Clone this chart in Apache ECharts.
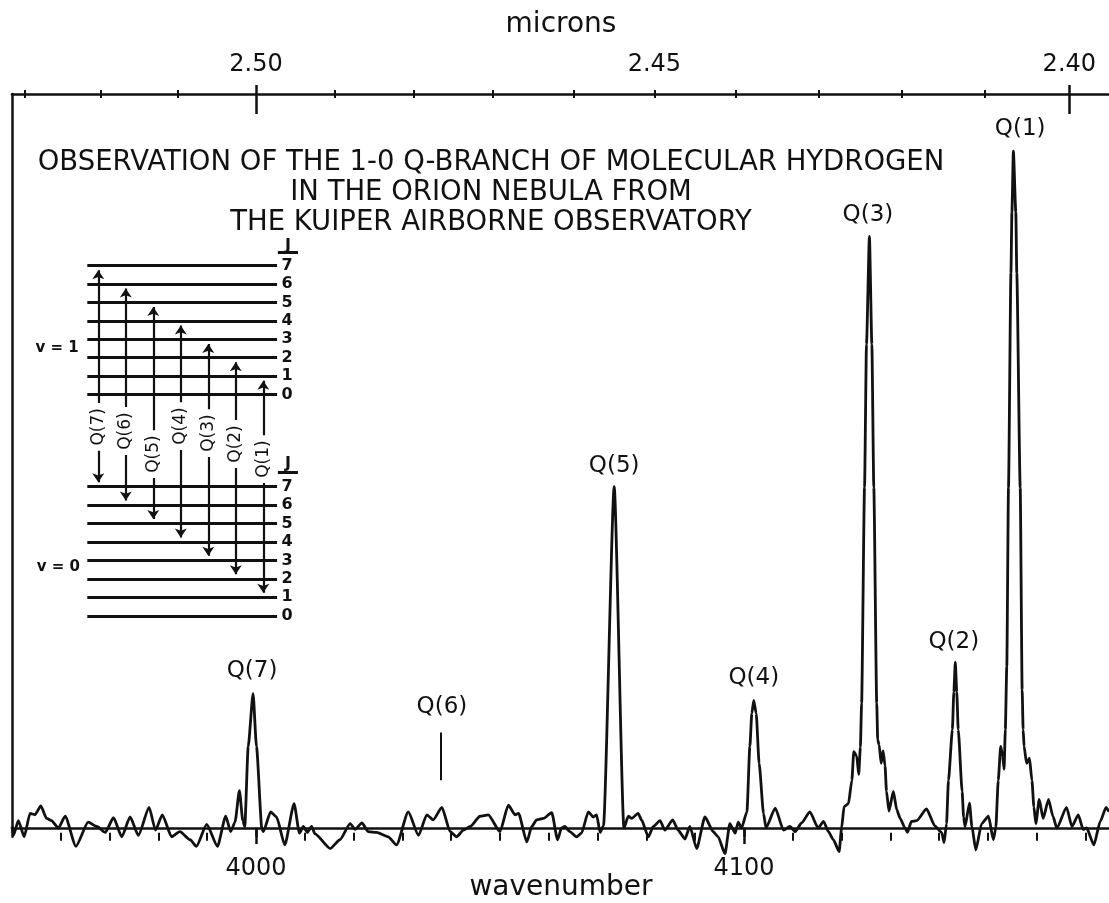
<!DOCTYPE html>
<html>
<head>
<meta charset="utf-8">
<script src="https://cdn.jsdelivr.net/npm/echarts@6/dist/echarts.min.js"></script>
<style>html,body{margin:0;padding:0;background:#fff}#chart{width:1109px;height:903px}</style>
</head>
<body>
<div id="chart"></div>
<script>
// ---------- spectrum (wavenumber cm^-1, relative intensity) ----------
const wavenumber = [
3950.0,3950.3,3951.3,3952.5,3953.7,3954.7,3955.9,3957.1,3958.1,3959.5,3960.9,3963.1,3965.6,3967.4,3969.1,3970.8,
3972.5,3974.2,3975.9,3978.1,3979.4,3980.8,3982.7,3984.4,3986.5,3987.8,3989.9,3992.1,3993.8,3994.8,3995.7,3996.6,
3997.3,3997.7,3998.4,3999.4,4000.1,4001.2,4001.5,4003.0,4004.2,4005.9,4007.8,4008.9,4009.7,4010.5,4011.4,4012.1,
4015.2,4017.2,4019.3,4020.3,4021.7,4023.0,4024.7,4027.1,4028.8,4031.2,4033.3,4035.0,4036.3,4038.1,4039.8,4041.1,
4042.5,4043.9,4045.9,4047.6,4050.0,4051.7,4053.1,4053.8,4055.5,4056.5,4057.5,4058.9,4060.6,4061.8,4062.6,4063.3,
4064.3,4065.7,4066.7,4068.1,4069.1,4069.8,4070.5,4071.2,4073.4,4075.4,4076.3,4077.0,4078.3,4079.0,4080.4,4081.4,
4082.8,4083.8,4085.4,4086.5,4087.9,4088.9,4090.3,4092.0,4093.7,4094.7,4096.1,4097.1,4098.2,4098.8,4099.5,4100.6,
4101.2,4101.6,4102.0,4102.5,4103.1,4104.0,4104.5,4106.4,4108.1,4109.4,4110.5,4111.8,4113.5,4115.2,4116.3,4117.3,
4118.3,4119.5,4120.0,4120.5,4121.4,4122.1,4122.5,4123.1,4123.5,4123.85,4124.1,4124.7,4125.1,4125.7,4126.2,4126.6,
4127.2,4127.4,4127.7,4128.1,4128.5,4128.9,4129.2,4129.7,4130.6,4131.3,4132.0,4133.0,4133.5,4134.3,4135.4,4137.4,
4139.1,4140.5,4141.0,4141.5,4141.9,4142.7,4143.0,4143.3,4143.6,4143.9,4144.7,4145.0,4145.3,4146.2,4146.7,4147.5,
4148.7,4150.1,4151.1,4151.6,4152.1,4152.6,4153.0,4153.3,4153.55,4153.85,4154.2,4154.7,4154.9,4155.2,4155.7,4155.9,
4156.6,4157.0,4157.2,4157.4,4157.9,4158.5,4159.0,4159.4,4159.8,4160.5,4161.3,4162.4,4163.3,4164.1,4166.1,4167.2,
4168.5,4169.5,4170.2,4171.7,4173.0,4174.2,4174.8
];
const intensity = [
0.2,-1.0,1.0,-1.2,2.0,1.8,3.0,1.3,1.0,0.0,1.6,-2.5,0.8,0.2,-0.6,1.4,
-1.2,1.5,-1.0,2.8,-0.3,1.8,-1.2,-0.5,-1.6,-2.5,0.5,-2.5,1.6,-0.5,0.8,5.1,
1.0,0.2,11.1,18.3,11.1,-0.1,-0.5,2.2,1.5,-2.3,3.3,-0.7,0.2,-0.6,0.2,-0.8,
-2.8,-1.6,0.6,-0.2,0.7,-0.5,-0.6,-1.2,-2.3,2.2,-1.0,1.8,1.1,2.8,-0.5,-1.2,
-0.3,0.2,1.6,1.8,-0.5,3.1,1.8,2.0,-1.9,0.2,1.1,1.3,2.1,-1.6,0.0,0.2,
-0.5,-1.2,-0.7,2.2,1.5,1.8,-0.6,0.3,46.5,0.0,1.6,1.3,2.0,1.1,-1.2,0.2,
1.0,-0.3,1.1,-0.3,-1.5,0.2,-2.8,1.5,-0.5,-1.2,-3.5,0.6,-0.7,0.8,0.0,2.2,
11.1,15.6,17.4,15.6,8.8,2.0,0.0,2.7,-0.3,0.2,-0.5,0.7,2.2,0.0,0.9,-0.5,
-1.6,-3.2,0.0,2.9,3.3,6.5,10.4,9.8,7.3,11.0,17.0,46.4,65.9,80.6,65.9,46.4,
17.0,12.0,11.3,8.8,10.5,8.5,5.0,2.3,5.0,2.5,1.3,0.0,-0.6,0.9,1.0,2.6,
0.3,-0.6,-2.0,0.6,6.5,13.4,18.5,22.6,18.5,13.4,5.0,1.5,0.2,3.4,0.2,-3.0,
0.6,1.6,-1.6,0.0,6.5,11.1,9.8,8.0,13.4,22.0,46.4,75.6,83.9,92.2,83.9,75.6,
46.4,18.8,13.4,11.1,8.8,9.5,6.5,2.9,0.6,3.9,1.3,3.9,1.6,0.0,2.8,0.2,
1.8,-0.2,0.0,-2.3,0.9,2.8,2.2
];

// ---------- line identifications ----------
const peakNames = ['Q(7)', 'Q(6)', 'Q(5)', 'Q(4)', 'Q(3)', 'Q(2)', 'Q(1)'];
const peakLabelWavenumber = [3999.2, 4038.1, 4073.4, 4102.0, 4125.4, 4143.0, 4156.6];
const peakLabelLevel = [21.4, 16.5, 49.3, 20.4, 83.5, 25.3, 95.2];
const q6MarkWavenumber = 4037.9;
const q6MarkRange = [6.5, 13.0];

// ---------- axes ----------
const wavenumberLabels = [4000, 4100];
const wavenumberMinorTicks = [3960,3970,3980,3990,4010,4020,4030,4040,4050,4060,4070,4080,4090,4110,4120,4130,4140,4150,4160,4170];
const micronLabels = [2.50, 2.45, 2.40];
const micronMajorTicks = [2.50, 2.40];
const micronMinorTicks = [2.53, 2.52, 2.51, 2.49, 2.48, 2.47, 2.46, 2.45, 2.44, 2.43, 2.42, 2.41];

// ---------- energy level diagram (v=1 and v=0, J = 0..7) ----------
const levelJ = [0, 1, 2, 3, 4, 5, 6, 7];
const transitionJ = [1, 2, 3, 4, 5, 6, 7];
const transitionNames = ['Q(1)', 'Q(2)', 'Q(3)', 'Q(4)', 'Q(5)', 'Q(6)', 'Q(7)'];

// layout of the diagram (in diagram units)
const V1_OFFSET = 12;
const LEVEL_X0 = -0.4, LEVEL_X1 = 6.5, DIGIT_X = 6.86;
const qLabelCentre = {1: 8.50, 2: 9.32, 3: 9.91, 4: 10.29, 5: 8.77, 6: 10.02, 7: 10.25};
const LABEL_HALF = 1.3, ARROW_PAD = 0.25;

const FONT = 'DejaVu Sans';
const INK = '#111';
const toWn = m => 1e4 / m;

const levelLines = [];
levelJ.forEach(J => {
  levelLines.push({coords: [[LEVEL_X0, J], [LEVEL_X1, J]]});
  levelLines.push({coords: [[LEVEL_X0, J + V1_OFFSET], [LEVEL_X1, J + V1_OFFSET]]});
});
levelLines.push({coords: [[6.53, 19.72], [7.26, 19.72]]});
levelLines.push({coords: [[6.53, 7.78], [7.26, 7.78]]});

const upSegs = transitionJ.map(J => ({coords: [[7 - J, J + V1_OFFSET - ARROW_PAD], [7 - J, qLabelCentre[J] + LABEL_HALF]]}));
const downSegs = transitionJ.map(J => ({coords: [[7 - J, qLabelCentre[J] - LABEL_HALF], [7 - J, J + ARROW_PAD]]}));

const diagramText = [];
levelJ.forEach(J => {
  diagramText.push({value: [DIGIT_X, J], name: String(J)});
  diagramText.push({value: [DIGIT_X, J + V1_OFFSET], name: String(J)});
});
diagramText.push({value: [6.9, 20.07], name: 'J'});
diagramText.push({value: [6.9, 8.23], name: 'J'});
const vLabels = [{value: [-1.5, 14.54], name: 'v = 1'}, {value: [-1.45, 2.66], name: 'v = 0'}];
const qDiagLabels = transitionJ.map((J, i) => ({value: [7 - J, qLabelCentre[J]], name: transitionNames[i]}));

function tickAxis(extra) {
  return Object.assign({
    type: 'value', gridIndex: 0, min: 3950, max: 4175,
    splitLine: {show: false}, axisLabel: {show: false},
    axisLine: {show: false, onZero: true}
  }, extra);
}

function textScatter(axisX, axisY, data, label) {
  return {
    type: 'scatter', xAxisIndex: axisX, yAxisIndex: axisY, symbolSize: 1,
    itemStyle: {color: 'rgba(0,0,0,0)', opacity: 1},
    data: data, silent: true,
    label: Object.assign({show: true, position: 'inside', formatter: '{b}', color: INK, opacity: 1,
                          fontFamily: FONT, textBorderWidth: 0}, label),
    z: 6
  };
}

const option = {
  animation: false,
  backgroundColor: '#ffffff',
  textStyle: {fontFamily: FONT, color: INK},
  title: {
    text: 'OBSERVATION OF THE 1-0 Q-BRANCH OF MOLECULAR HYDROGEN\nIN THE ORION NEBULA FROM\nTHE KUIPER AIRBORNE OBSERVATORY',
    left: 486, top: 143, textAlign: 'center',
    textStyle: {fontFamily: FONT, fontSize: 27.5, fontWeight: 'normal', lineHeight: 30, color: INK}
  },
  grid: [
    {left: 12, top: 94, width: 1098, height: 742.8, outerBoundsMode: 'none', containLabel: false},
    {left: 43.3, top: 228.7, width: 275, height: 405.5, outerBoundsMode: 'none', containLabel: false}
  ],
  xAxis: [
    tickAxis({
      position: 'bottom',
      axisLine: {show: true, onZero: true, lineStyle: {color: INK, width: 2.5}},
      axisTick: {show: true, customValues: wavenumberLabels, length: 16, lineStyle: {color: INK, width: 2.5}},
      axisLabel: {show: true, customValues: wavenumberLabels, margin: 20, fontSize: 24, color: INK, fontFamily: FONT,
                  formatter: v => String(v)},
      name: 'wavenumber', nameLocation: 'middle', nameGap: 37, nameMoveOverlap: false,
      nameTextStyle: {fontSize: 28, color: INK, fontFamily: FONT}
    }),
    tickAxis({position: 'bottom', axisTick: {show: true, inside: true, customValues: wavenumberMinorTicks, length: 4, lineStyle: {color: INK, width: 2}}}),
    tickAxis({position: 'bottom', axisTick: {show: true, customValues: wavenumberMinorTicks, length: 4, lineStyle: {color: INK, width: 2}}}),
    tickAxis({position: 'bottom', axisTick: {show: true, inside: true, customValues: wavenumberLabels, length: 9, lineStyle: {color: INK, width: 2.5}}}),
    tickAxis({
      position: 'top',
      axisLine: {show: true, onZero: false, lineStyle: {color: INK, width: 2.5}},
      axisTick: {show: true, customValues: micronMajorTicks.map(toWn), length: 9, lineStyle: {color: INK, width: 2.5}},
      axisLabel: {show: true, customValues: micronLabels.map(toWn), margin: 17, fontSize: 24, color: INK, fontFamily: FONT,
                  formatter: v => (1e4 / v).toFixed(2)},
      name: 'microns', nameLocation: 'middle', nameGap: 55, nameMoveOverlap: false,
      nameTextStyle: {fontSize: 28, color: INK, fontFamily: FONT}
    }),
    tickAxis({position: 'top', axisLine: {show: false, onZero: false}, axisTick: {show: true, inside: true, customValues: micronMajorTicks.map(toWn), length: 20, lineStyle: {color: INK, width: 2.5}}}),
    tickAxis({position: 'top', axisLine: {show: false, onZero: false}, axisTick: {show: true, customValues: micronMinorTicks.map(toWn), length: 4, lineStyle: {color: INK, width: 2}}}),
    tickAxis({position: 'top', axisLine: {show: false, onZero: false}, axisTick: {show: true, inside: true, customValues: micronMinorTicks.map(toWn), length: 4, lineStyle: {color: INK, width: 2}}}),
    {type: 'value', gridIndex: 1, min: -2, max: 8, show: false}
  ],
  yAxis: [
    {type: 'value', gridIndex: 0, min: -1.2, max: 100,
     axisLine: {show: true, onZero: false, lineStyle: {color: INK, width: 2.5}},
     axisTick: {show: false}, axisLabel: {show: false}, splitLine: {show: false}},
    {type: 'value', gridIndex: 1, min: -1, max: 21, show: false}
  ],
  series: [
    {
      type: 'line', xAxisIndex: 0, yAxisIndex: 0,
      data: wavenumber.map((w, i) => [w, intensity[i]]),
      showSymbol: false, smooth: 0.2, smoothMonotone: 'x', clip: false,
      lineStyle: {color: INK, width: 2.8},
      markLine: {
        silent: true, symbol: 'none', label: {show: false},
        lineStyle: {color: INK, width: 2, type: 'solid'},
        data: [[{coord: [q6MarkWavenumber, q6MarkRange[0]]}, {coord: [q6MarkWavenumber, q6MarkRange[1]]}]]
      },
      z: 3
    },
    textScatter(0, 0, peakNames.map((n, i) => ({value: [peakLabelWavenumber[i], peakLabelLevel[i]], name: n})),
                {fontSize: 23}),
    {
      type: 'lines', coordinateSystem: 'cartesian2d', xAxisIndex: 8, yAxisIndex: 1,
      data: levelLines, symbol: 'none', lineStyle: {color: INK, width: 2.8, opacity: 1}, z: 5
    },
    {
      type: 'lines', coordinateSystem: 'cartesian2d', xAxisIndex: 8, yAxisIndex: 1,
      data: upSegs, symbol: ['arrow', 'none'], symbolSize: 9,
      lineStyle: {color: INK, width: 2.2, opacity: 1}, itemStyle: {color: INK}, z: 5
    },
    {
      type: 'lines', coordinateSystem: 'cartesian2d', xAxisIndex: 8, yAxisIndex: 1,
      data: downSegs, symbol: ['none', 'arrow'], symbolSize: 9,
      lineStyle: {color: INK, width: 2.2, opacity: 1}, itemStyle: {color: INK}, z: 5
    },
    textScatter(8, 1, diagramText, {fontSize: 16, fontWeight: 'bold'}),
    textScatter(8, 1, vLabels, {fontSize: 15, fontWeight: 'bold'}),
    textScatter(8, 1, qDiagLabels, {fontSize: 17, rotate: 90})
  ]
};

const chart = echarts.init(document.getElementById('chart'), null, {renderer: 'canvas'});
chart.setOption(option);
</script>
</body>
</html>
